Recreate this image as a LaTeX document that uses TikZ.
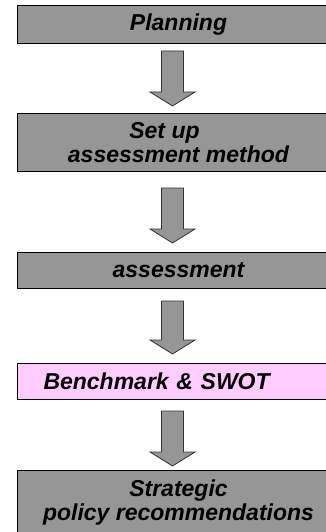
\documentclass[tikz,border=0pt]{standalone}
\usepackage{fontspec}
\setmainfont{Liberation Sans}
\usepackage{xcolor}
\usepackage{tikz}
\usetikzlibrary{positioning}

\definecolor{boxgray}{RGB}{150,150,150}
\definecolor{boxpink}{RGB}{255,204,255}

\begin{document}
\begin{tikzpicture}[
        x=1pt, y=-1pt,
        stage/.style={rectangle, draw=black, line width=1pt, fill=boxgray, anchor=north west, minimum width=322pt, align=center, font=\fontsize{23}{24}\selectfont\bfseries\itshape},
        result/.style={stage, fill=boxpink, text width=270pt, align=left},
        blockarrow/.style={draw=black!80, line width=0.8pt, fill=boxgray,
            to path={([xshift=-11pt]\tikztostart) -- ([xshift=11pt]\tikztostart)
                -- ([xshift=11pt, yshift=14pt]\tikztotarget) -- ([xshift=22.5pt, yshift=14pt]\tikztotarget)
                -- (\tikztotarget)
                -- ([xshift=-22.5pt, yshift=14pt]\tikztotarget) -- ([xshift=-11pt, yshift=14pt]\tikztotarget)
                -- cycle}}
    ]
    \useasboundingbox (0,0) rectangle (325,532);

    % Stages
    \node[stage, minimum height=38pt] (planning) at (17,5) {Planning};
    \node[stage, minimum height=58pt] (setup) at (17,113) {Set up\hspace*{28pt}\\assessment method};
    \node[stage, minimum height=36pt] (assessment) at (17,252) {assessment};
    \node[result, minimum height=36pt] (benchmark) at (17,363) {Benchmark \& SWOT};
    \node[stage, minimum height=65pt] (strategic) at (17,470) {Strategic\\policy recommendations};

    % Arrows between stages
    \draw[blockarrow] ([xshift=-6pt, yshift=-7pt]planning.south) to ([xshift=-6pt, yshift=7pt]setup.north);
    \draw[blockarrow] ([xshift=-6pt, yshift=-16pt]setup.south) to ([xshift=-6pt, yshift=9pt]assessment.north);
    \draw[blockarrow] ([xshift=-6pt, yshift=-12pt]assessment.south) to ([xshift=-6pt, yshift=9pt]benchmark.north);
    \draw[blockarrow] ([xshift=-6pt, yshift=-11pt]benchmark.south) to ([xshift=-6pt, yshift=4pt]strategic.north);

\end{tikzpicture}
\end{document}
